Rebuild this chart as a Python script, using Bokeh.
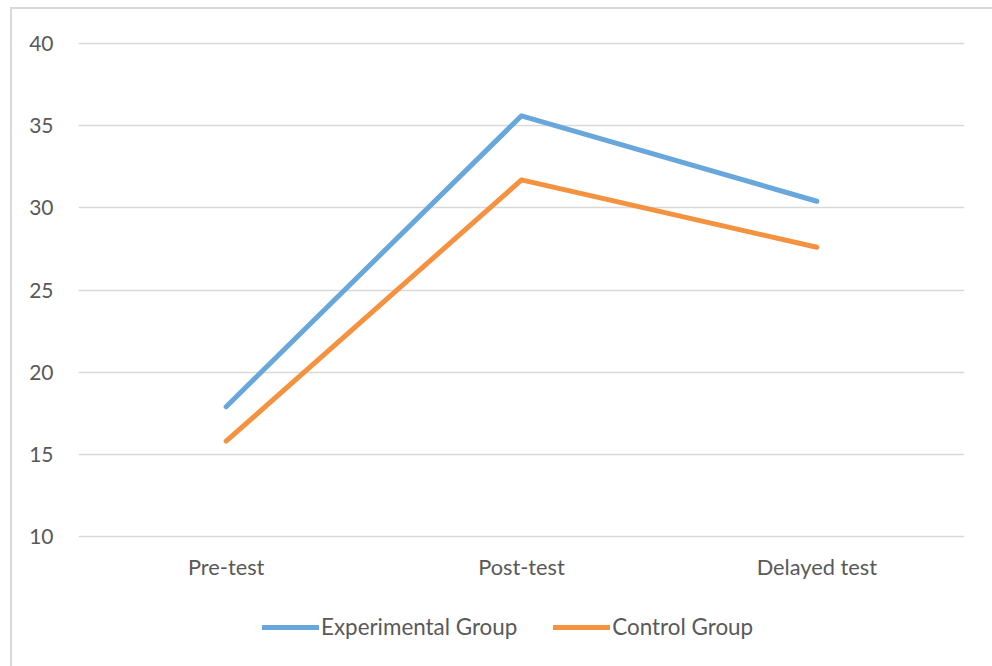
from bokeh.plotting import figure
from bokeh.layouts import column
from bokeh.models import Range1d, FactorRange, Legend, LegendItem, SingleIntervalTicker
from bokeh.embed import file_html
from bokeh.resources import INLINE

# Test phases and mean scores per group
phases = ["Pre-test", "Post-test", "Delayed test"]
experimental = [17.9, 35.6, 30.4]
control = [15.8, 31.7, 27.6]
series_names = ["Experimental Group", "Control Group"]

FONT = "Lato"
TEXT = "#595959"
GRID = "#d9d9d9"
BLUE = "#68A7DC"
ORANGE = "#F4923F"

# small pad so the 10 and 40 gridlines sit inside the frame
PAD = 2 / 16.43

p = figure(
    x_range=FactorRange(*phases, range_padding=0),
    y_range=Range1d(10 - PAD, 40 + PAD),
    width=980, height=595,
    output_backend="svg", toolbar_location=None,
    min_border_left=66, min_border_right=28,
    min_border_top=32, min_border_bottom=66,
)
p.outline_line_color = None
p.background_fill_color = "white"
p.border_fill_color = "white"

p.xgrid.grid_line_color = None
p.ygrid.grid_line_color = GRID
p.ygrid.grid_line_width = 1.5
p.yaxis.ticker = SingleIntervalTicker(interval=5)

for ax in (p.xaxis, p.yaxis):
    ax.axis_line_color = None
    ax.major_tick_line_color = None
    ax.minor_tick_line_color = None
    ax.major_label_text_font = FONT
    ax.major_label_text_color = TEXT
p.yaxis.major_label_text_font_size = "21px"
p.xaxis.major_label_text_font_size = "21.8px"
p.yaxis.major_label_standoff = 19
p.xaxis.major_label_standoff = 8

line_style = dict(line_width=5, line_cap="round", line_join="round")
p.line(phases, experimental, line_color=BLUE, **line_style)
p.line(phases, control, line_color=ORANGE, **line_style)

# strip underneath the chart that carries the series key; its own copies of
# the series sit outside its visible y range so only the key samples show
key = figure(
    width=980, height=62,
    x_range=FactorRange(*phases), y_range=Range1d(100, 101),
    x_axis_type=None, y_axis_type=None,
    output_backend="svg", toolbar_location=None,
    min_border=0,
)
key.outline_line_color = None
key.border_fill_color = "white"
key.background_fill_color = "white"
key.xgrid.visible = False
key.ygrid.visible = False
k_exp = key.line(phases, experimental, line_color=BLUE, **line_style)
k_ctl = key.line(phases, control, line_color=ORANGE, **line_style)

legend = Legend(
    items=[LegendItem(label=series_names[0], renderers=[k_exp]),
           LegendItem(label=series_names[1], renderers=[k_ctl])],
    orientation="horizontal",
    location=(184, 26),
    glyph_width=57, label_standoff=2, spacing=36,
    padding=0, margin=0,
    border_line_color=None, background_fill_alpha=0,
    label_text_font=FONT, label_text_font_size="22.4px", label_text_color=TEXT,
)
key.add_layout(legend, "center")

layout = column(
    p, key, spacing=0,
    styles={
        "margin-left": "10px", "margin-top": "7px",
        "border-left": f"2px solid {GRID}", "border-top": f"2px solid {GRID}",
    },
)

open("out.html", "w").write(file_html(layout, INLINE))
